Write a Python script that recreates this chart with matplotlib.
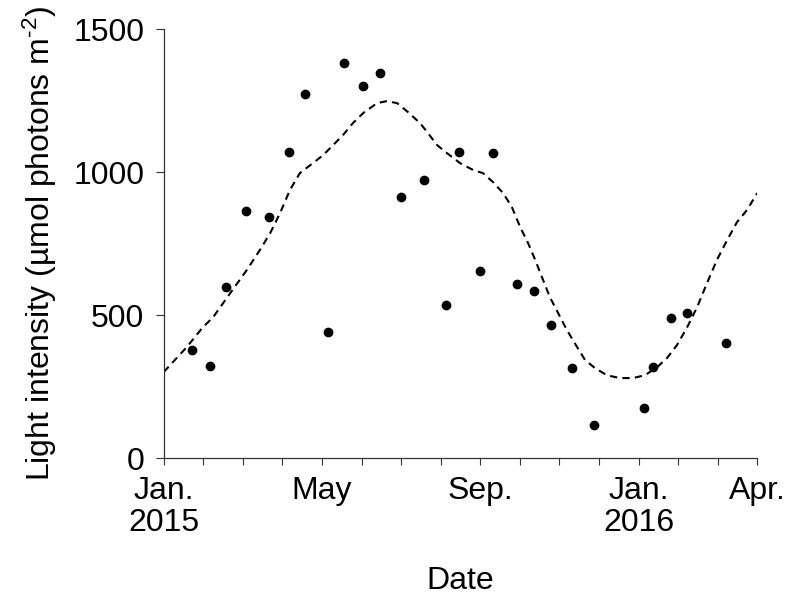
import numpy as np
import matplotlib
matplotlib.use("Agg")
import matplotlib.pyplot as plt

plt.rcParams["font.family"] = ["Liberation Sans", "DejaVu Sans"]
plt.rcParams["mathtext.fontset"] = "custom"
plt.rcParams["mathtext.rm"] = "Liberation Sans"
plt.rcParams["mathtext.it"] = "Liberation Sans"

# x in months since 1 Jan 2015 (0 = Jan 2015, 15 = Apr 2016)
obs_month = [0.71, 1.16, 1.57, 2.09, 2.67, 3.17, 3.57, 4.15, 4.55, 5.04, 5.47, 6.00,
             6.58, 7.13, 7.46, 7.99, 8.32, 8.94, 9.37, 9.80, 10.33, 10.87, 12.15,
             12.37, 12.81, 13.22, 14.20]
obs_light = [377, 324, 598, 865, 843, 1070, 1274, 442, 1383, 1301, 1348, 913,
             974, 534, 1070, 655, 1066, 608, 585, 464, 316, 115, 176,
             319, 490, 507, 403]

# dashed seasonal fit
fit_month = [0.00, 0.58, 0.99, 1.25, 1.68, 2.10, 2.43, 2.69, 2.94, 3.19, 3.44, 3.77,
             4.03, 4.28, 4.53, 4.78, 5.04, 5.39, 5.64, 5.90, 6.17, 6.48, 6.68, 6.91,
             7.16, 7.49, 7.82, 8.07, 8.32, 8.58, 8.80, 9.01, 9.21, 9.39, 9.56, 9.76,
             9.97, 10.19, 10.45, 10.65, 10.90, 11.20, 11.53, 11.86, 12.16, 12.47,
             12.72, 12.97, 13.23, 13.48, 13.73, 13.98, 14.24, 14.49, 14.74, 15.00]
fit_light = [301, 388, 458, 493, 577, 658, 728, 787, 857, 938, 997, 1032,
             1060, 1095, 1130, 1172, 1207, 1242, 1249, 1242, 1211, 1172, 1137, 1095,
             1067, 1032, 1008, 997, 966, 927, 878, 808, 752, 693, 633, 563,
             507, 448, 388, 343, 315, 290, 280, 280, 290, 318,
             350, 395, 458, 528, 612, 693, 763, 826, 868, 927]

tick_pos = [0, 4, 8, 12, 15]
tick_lab = ["Jan.\n2015", "May", "Sep.", "Jan.\n2016", "Apr."]

fig = plt.figure(figsize=(7.92, 6.10), dpi=100)
ax = fig.add_axes([0.2067, 0.249, 0.7494, 0.7028])

ax.plot(fit_month, fit_light, color="black", lw=1.5, ls=(0, (3.5, 2.5)))
ax.plot(obs_month, obs_light, "o", color="black", ms=6)

ax.set_xlim(0, 15)
ax.set_ylim(0, 1500)
ax.set_xticks(np.arange(0, 16))
ax.set_xticklabels([tick_lab[tick_pos.index(i)] if i in tick_pos else "" for i in range(16)])
ax.set_yticks([0, 500, 1000, 1500])

for s in ("top", "right"):
    ax.spines[s].set_visible(False)
for s in ("left", "bottom"):
    ax.spines[s].set_linewidth(0.9)
    ax.spines[s].set_color("#333333")

ax.tick_params(axis="both", direction="out", labelsize=23, color="#333333")
ax.tick_params(axis="y", length=6, pad=8)
ax.tick_params(axis="x", length=5, pad=8)
for t in ax.get_xticklabels():
    t.set_linespacing(1.1)

ax.set_xlabel("Date", fontsize=23, labelpad=20)
ax.set_ylabel("Light intensity (µmol photons m$^{\u20102}$)", fontsize=23, labelpad=10)

fig.savefig("out.png", dpi=100)
